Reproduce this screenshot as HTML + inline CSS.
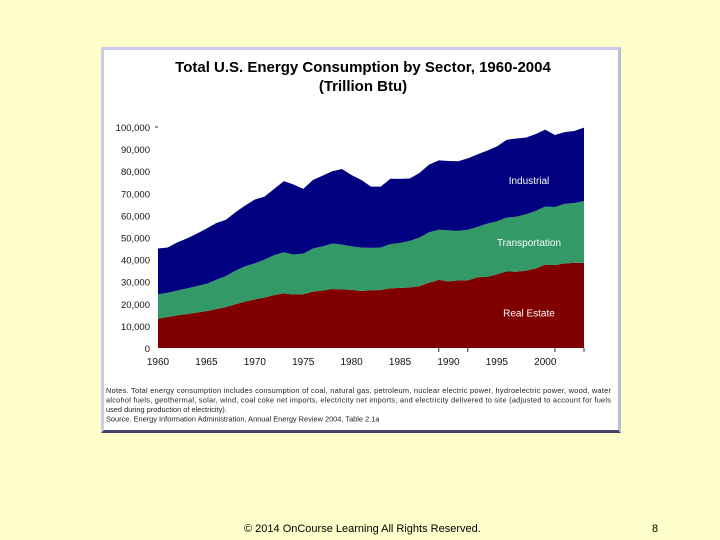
<!DOCTYPE html>
<html><head><meta charset="utf-8"><style>
body{margin:0;width:720px;height:540px;background:#FFFFCC;position:relative;overflow:hidden;font-family:"Liberation Sans",sans-serif}
#frame{position:absolute;left:101px;top:47px;width:514px;height:380px;background:#fff;border:3px solid #CCCCEE;border-bottom-color:#444466;border-right-color:#BBBBDD}
.foot{position:absolute;top:523px;font-size:11px;color:#000}
</style></head><body>
<div id="frame"></div>
<svg id="chart" width="720" height="540" style="position:absolute;left:0;top:0"></svg>
<div class="foot" style="left:244px">© 2014 OnCourse Learning All Rights Reserved.</div>
<div class="foot" style="left:652px">8</div>
<script>
const years=[];for(let y=1960;y<=2004;y++)years.push(y);
const realEstate=[13.3,14,14.8,15.3,16,16.7,17.6,18.5,19.8,21,22,22.8,24,24.7,24.2,24.3,25.5,26,26.7,26.5,26.3,25.8,26.2,26.2,27,27.2,27.4,28,29.5,30.8,30.1,30.6,30.6,32,32.2,33.3,34.7,34.5,35,36,37.7,37.5,38.3,38.5,38.5];
const transportation=[11.0,11.0,11.2,11.7,12.0,12.3,13.2,14.0,15.2,16.0,16.3,17.2,18.0,18.6,18.1,18.4,19.5,20.0,20.6,20.3,19.7,19.7,19.1,19.3,20.0,20.3,21.1,22.0,22.9,22.7,23.2,22.4,22.9,22.8,24.1,24.0,24.3,24.9,25.5,26.0,26.3,26.3,26.9,27.1,28.0];
const industrial=[20.7,20.5,21.8,22.6,23.7,25.0,25.7,25.5,26.4,27.5,28.9,28.5,30.0,32.2,31.7,29.3,31.0,32.0,32.7,34.2,32.2,30.5,27.7,27.5,29.6,29.0,28.2,29.2,30.6,31.4,31.3,31.5,32.3,32.8,33.0,33.9,35.2,35.4,34.7,34.8,34.8,32.6,32.5,32.6,33.2];
const yTicks=[0,10000,20000,30000,40000,50000,60000,70000,80000,90000,100000];
const yTickLabels=["0","10,000","20,000","30,000","40,000","50,000","60,000","70,000","80,000","90,000","100,000"];
const xTickYears=[1960,1965,1970,1975,1980,1985,1990,1995,2000];
const xTickMarks=[1989,1992,2001,2004];
const sectorNames=["Real Estate","Transportation","Industrial"];
const sectorLabelValues=[16000,48000,76000];
const NS="http://www.w3.org/2000/svg";
const svg=document.getElementById('chart');
const X=y=>158+(y-1960)*(584-158)/44;
const Y=v=>348-v*(348-127)/100000;
function mk(t,a,txt){const e=document.createElementNS(NS,t);for(const k in a)e.setAttribute(k,a[k]);if(txt!==undefined)e.textContent=txt;svg.appendChild(e);return e;}
let t=mk('text',{x:363,y:72,'text-anchor':'middle','font-size':'15','font-weight':'bold'},'Total U.S. Energy Consumption by Sector, 1960-2004');


t=mk('text',{x:363,y:91,'text-anchor':'middle','font-size':'15','font-weight':'bold'},'(Trillion Btu)');


const series=[realEstate,transportation,industrial];
const colors=["#800000","#339966","#000080"];
let base=years.map(()=>0);
series.forEach((s,i)=>{
 const top=base.map((b,j)=>b+s[j]);
 let d='M'+years.map((y,j)=>X(y)+','+Y(top[j]*1000)).join(' L');
 for(let j=years.length-1;j>=0;j--)d+=' L'+X(years[j])+','+Y(base[j]*1000);
 const p=mk('path',{d:d+'Z',fill:colors[i]});
 
 
 base=top;
});
sectorNames.forEach((n,i)=>{
 const lt=mk('text',{x:529,y:Y(sectorLabelValues[i])+4,'text-anchor':'middle','font-size':'10',fill:'#fff'},n);
 
 
});
yTicks.forEach((v,i)=>{
 const e=mk('text',{x:150,y:Y(v)+4,'text-anchor':'end','font-size':'9.5',fill:'#111'},yTickLabels[i]);
 
 
});
let dash=mk('line',{x1:155,x2:158,y1:Y(100000),y2:Y(100000),stroke:'#333','stroke-width':1});


xTickMarks.forEach(y=>{
 const e=mk('line',{x1:X(y),x2:X(y),y1:348,y2:352,stroke:'#333','stroke-width':1});
 
 
});
xTickYears.forEach(y=>{
 const e=mk('text',{x:X(y),y:365,'text-anchor':'middle','font-size':'10',fill:'#111'},String(y));
 
 
});
const notes=["Notes. Total energy consumption includes consumption of coal, natural gas, petroleum, nuclear electric power, hydroelectric power, wood, water",
"alcohol fuels, geothermal, solar, wind, coal coke net imports, electricity net imports, and electricity delivered to site (adjusted to account for fuels",
"used during production of electricity).",
"Source. Energy Information Administration, Annual Energy Review 2004, Table 2.1a"];
notes.forEach((n,i)=>{
 const a={x:106,y:393+i*9.5,'font-size':'7.4',fill:'#222'};
 if(i<2)a.textLength=505;
 const e=mk('text',a,n);
 
 
});
</script>
</body></html>
